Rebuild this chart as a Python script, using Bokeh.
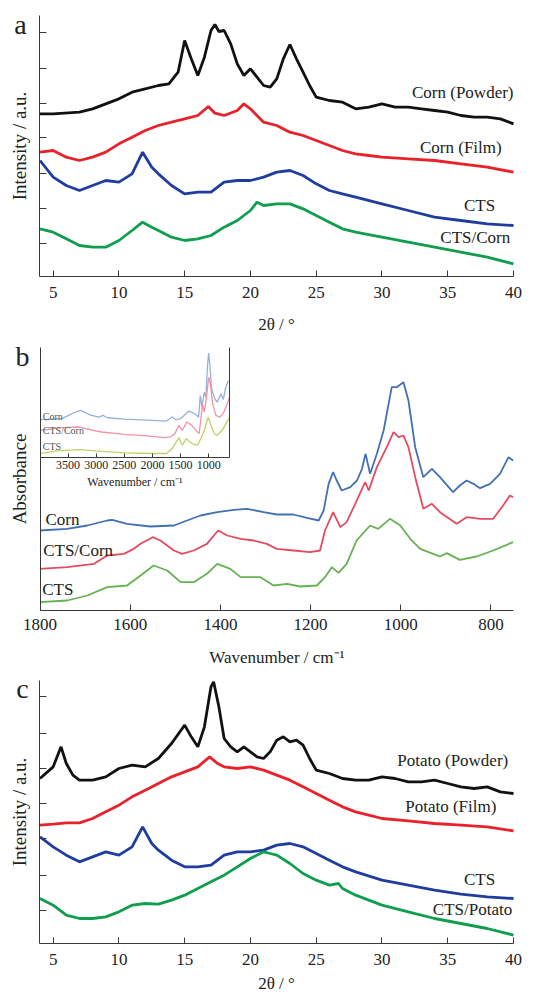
from bokeh.plotting import figure
from bokeh.layouts import column
from bokeh.models import Range1d, FixedTicker, LinearAxis, CustomJSTickFormatter
from bokeh.core.properties import value
from bokeh.embed import file_html
from bokeh.resources import INLINE

FONT = "Liberation Serif"

# ---------------- Panel a : XRD, corn ----------------
a_theta_powder = [4, 5, 7, 8, 9, 10, 11, 12, 13, 13.8, 14.5, 15, 15.5, 16, 16.5, 17, 17.3, 17.6, 18, 18.5,
                  19, 19.5, 20, 20.5, 21, 21.5, 22, 22.5, 23, 23.5, 24, 24.5, 25, 26, 27, 28, 29, 30, 31,
                  32, 33, 34, 35, 36, 37, 38, 39, 40]
a_int_powder = [488, 488, 493, 503, 518, 533, 553, 563, 573, 578, 613, 708, 653, 603, 658, 738, 756, 735, 738, 698,
                638, 603, 623, 598, 573, 568, 593, 653, 696, 653, 613, 573, 538, 528, 523, 503, 508, 518, 508,
                508, 503, 498, 493, 483, 478, 478, 473, 458]
a_theta_film = [4, 5, 6, 7, 8, 9, 10, 11, 12, 13, 14, 15, 16, 16.8, 17.3, 18, 19, 19.5, 20, 21, 22, 23, 24,
                25, 26, 27, 28, 29, 30, 32, 34, 36, 38, 40]
a_int_film = [373, 378, 358, 348, 358, 373, 398, 418, 438, 453, 463, 473, 483, 510, 490, 483, 498, 518, 503, 463,
              453, 433, 423, 408, 393, 378, 368, 363, 358, 353, 348, 338, 328, 313]
a_theta_cts = [4, 5, 6, 7, 8, 9, 10, 11, 11.8, 12.5, 13, 14, 15, 16, 17, 18, 19, 20, 21, 22, 23, 24, 25, 26,
               27, 28, 30, 32, 34, 36, 38, 40]
a_int_cts = [348, 298, 273, 258, 273, 288, 283, 308, 373, 328, 308, 273, 248, 253, 253, 283, 288, 288, 298, 313,
             318, 303, 278, 258, 248, 238, 218, 198, 178, 168, 158, 153]
a_theta_blend = [4, 5, 6, 7, 8, 9, 10, 11, 11.8, 12.5, 13, 14, 15, 16, 17, 18, 19, 20, 20.5, 21, 22, 23, 24,
                 25, 26, 27, 28, 30, 32, 34, 36, 38, 40]
a_int_blend = [143, 133, 113, 93, 88, 88, 108, 138, 163, 148, 138, 118, 108, 113, 123, 148, 168, 198, 223, 213,
               218, 218, 203, 183, 163, 143, 133, 118, 103, 88, 73, 58, 38]
a_names = ["Corn (Powder)", "Corn (Film)", "CTS", "CTS/Corn"]
a_yticks = [98, 203, 310, 416, 520, 625, 733]

# ---------------- Panel b : FTIR ----------------
b_wn_corn = [1800, 1740, 1695, 1651, 1640, 1607, 1555, 1503, 1474, 1444, 1407, 1370, 1341, 1304, 1275, 1238,
             1208, 1182, 1171, 1160, 1150, 1142, 1131, 1112, 1097, 1086, 1078, 1068, 1053, 1038, 1020, 1009,
             994, 983, 968, 950, 931, 913, 884, 869, 854, 839, 824, 802, 780, 761, 751]
b_abs_corn = [240, 245, 255, 270, 272, 260, 252, 255, 270, 285, 295, 302, 305, 295, 288, 288,
              278, 270, 300, 380, 415, 390, 360, 370, 390, 425, 470, 410, 470, 540, 670, 670,
              685, 630, 490, 400, 425, 400, 355, 375, 390, 380, 367, 380, 410, 460, 450]
b_wn_blend = [1800, 1740, 1680, 1651, 1614, 1592, 1577, 1550, 1533, 1503, 1485, 1459, 1430, 1405, 1385, 1355,
              1326, 1297, 1275, 1238, 1201, 1179, 1168, 1150, 1134, 1120, 1101, 1079, 1071, 1053, 1031, 1016,
              1005, 994, 983, 968, 950, 931, 913, 876, 854, 824, 795, 773, 758, 751]
b_abs_blend = [125, 130, 140, 165, 170, 185, 200, 220, 210, 180, 170, 180, 200, 240, 225, 215,
               210, 200, 185, 180, 175, 180, 240, 295, 250, 265, 320, 385, 360, 430, 490, 535,
               520, 525, 490, 400, 305, 320, 295, 260, 280, 275, 275, 315, 345, 340]
b_wn_cts = [1800, 1740, 1695, 1651, 1607, 1577, 1548, 1518, 1488, 1459, 1430, 1407, 1378, 1355, 1311, 1282,
            1252, 1223, 1186, 1168, 1153, 1138, 1120, 1098, 1068, 1050, 1024, 1001, 979, 957, 928, 913,
            898, 869, 832, 795, 751]
b_abs_cts = [25, 30, 45, 70, 75, 105, 135, 120, 85, 85, 110, 140, 125, 100, 100, 75,
             80, 72, 75, 100, 130, 113, 140, 210, 255, 245, 275, 255, 215, 185, 170, 162,
             172, 152, 162, 180, 205]
b_names = ["Corn", "CTS/Corn", "CTS"]
b_xticks = [1800, 1600, 1400, 1200, 1000, 800]

# inset (full range spectra)
i_wn_corn = [4000, 3900, 3600, 3400, 3280, 3100, 2950, 2880, 2800, 2500, 2000, 1750, 1650, 1580, 1500, 1420,
             1350, 1250, 1180, 1150, 1120, 1080, 1050, 1020, 1000, 980, 950, 900, 850, 780, 740, 700, 650]
i_abs_corn = [115, 114, 118, 135, 142, 128, 122, 127, 120, 116, 112, 110, 122, 114, 117, 130,
              140, 132, 122, 187, 152, 197, 182, 280, 315, 280, 210, 180, 167, 192, 175, 210, 232]
i_wn_blend = [4000, 3600, 3300, 3000, 2900, 2500, 2100, 1800, 1680, 1600, 1530, 1470, 1390, 1300, 1230, 1170,
              1130, 1110, 1080, 1040, 1000, 970, 930, 870, 800, 730, 670, 630]
i_abs_blend = [82, 90, 92, 80, 77, 70, 65, 60, 62, 72, 97, 82, 107, 97, 82, 72,
               130, 162, 137, 180, 242, 222, 162, 127, 122, 137, 162, 182]
i_wn_cts = [4000, 3700, 3300, 3000, 2500, 2000, 1750, 1650, 1530, 1470, 1400, 1300, 1200, 1140, 1080, 1010,
            960, 900, 850, 760, 660, 630]
i_abs_cts = [12, 20, 24, 20, 14, 12, 12, 27, 60, 37, 57, 42, 37, 57, 80, 122,
             97, 72, 67, 82, 112, 120]
i_names = ["Corn", "CTS/Corn", "CTS"]
i_xticks = [3500, 3000, 2500, 2000, 1500, 1000]

# ---------------- Panel c : XRD, potato ----------------
c_theta_powder = [4, 5, 5.6, 6, 6.5, 7, 8, 9, 10, 11, 12, 13, 14, 15, 15.5, 16, 16.5, 17, 17.2, 17.6, 18,
                  18.5, 19, 19.5, 20, 20.5, 21, 21.5, 22, 22.5, 23, 23.5, 24, 24.5, 25, 26, 27, 28, 29, 30,
                  31, 32, 33, 34, 35, 36, 37, 38, 39, 40]
c_int_powder = [495, 530, 590, 540, 505, 490, 490, 500, 525, 535, 530, 555, 600, 655, 620, 590, 650, 770, 785,
                710, 615, 590, 575, 590, 575, 560, 555, 575, 610, 620, 605, 610, 595, 555, 520, 510, 495,
                490, 490, 500, 495, 485, 485, 490, 480, 470, 465, 470, 455, 450]
c_theta_film = [4, 5, 6, 7, 8, 9, 10, 11, 12, 13, 14, 15, 16, 16.9, 17.5, 18, 19, 20, 21, 22, 23, 24, 25,
                26, 27, 28, 29, 30, 32, 34, 36, 38, 40]
c_int_film = [355, 358, 362, 362, 375, 395, 415, 440, 460, 480, 500, 515, 530, 560, 540, 530, 525, 530, 520,
              505, 490, 470, 450, 430, 410, 395, 385, 375, 368, 360, 355, 350, 338]
c_theta_cts = [4, 5, 6, 7, 8, 9, 10, 11, 11.8, 12.5, 13, 14, 15, 16, 17, 18, 19, 20, 21, 22, 23, 24, 25, 26,
               27, 28, 30, 32, 34, 36, 38, 40]
c_int_cts = [320, 290, 265, 245, 260, 275, 265, 290, 350, 300, 280, 250, 230, 230, 235, 265, 275, 275, 280,
             295, 300, 290, 270, 250, 230, 215, 190, 175, 160, 148, 140, 135]
c_theta_blend = [4, 5, 6, 7, 8, 9, 10, 11, 12, 13, 14, 15, 16, 17, 18, 19, 20, 21, 21.5, 22, 23, 24, 25,
                 26, 26.7, 27, 28, 30, 32, 34, 36, 38, 40]
c_int_blend = [135, 115, 85, 75, 75, 80, 95, 115, 120, 118, 130, 145, 165, 185, 205, 230, 255, 275, 270, 265,
               240, 210, 190, 175, 180, 165, 145, 115, 95, 75, 60, 45, 25]
c_names = ["Potato (Powder)", "Potato (Film)", "CTS", "CTS/Potato"]
c_yticks = [100, 205, 315, 420, 525, 630, 740]

xrd_xticks = [5, 10, 15, 20, 25, 30, 35, 40]

XRD_COLORS = ["#111111", "#e8212b", "#1f3d9e", "#0f9e4e"]
FTIR_COLORS = ["#4270b4", "#e34b60", "#66b152"]
INSET_COLORS = ["#98b0dc", "#f095a5", "#c3d06a"]
AXIS_COLOR = "#3a3a3a"
TEXT_COLOR = "#222222"
WIDTH = 547


def style_axis(ax, tick_size, label_size, tick_in):
    ax.axis_line_color = AXIS_COLOR
    ax.major_tick_line_color = AXIS_COLOR
    ax.minor_tick_line_color = None
    ax.major_tick_out = 0
    ax.major_tick_in = tick_in
    ax.major_label_text_font = FONT
    ax.axis_label_text_font = FONT
    ax.axis_label_text_font_style = "normal"
    ax.major_label_text_color = TEXT_COLOR
    ax.axis_label_text_color = TEXT_COLOR
    ax.major_label_text_font_size = tick_size
    ax.axis_label_text_font_size = label_size


def base_figure(height, x_range, y_range):
    p = figure(width=WIDTH, height=height, x_range=x_range, y_range=y_range,
               x_axis_type=None, y_axis_type=None,
               output_backend="svg", toolbar_location=None,
               min_border_left=0, min_border_right=0, min_border_top=0, min_border_bottom=0)
    p.outline_line_color = None
    p.grid.visible = False
    p.background_fill_color = "white"
    p.border_fill_color = "white"
    return p


def blank_formatter():
    return CustomJSTickFormatter(code="return ''")


def xrd_figure(height, y_range, y_top, yticks, xs, ys, names, lab_x, lab_y, letter, letter_xy,
               xlabel_standoff):
    p = base_figure(height, Range1d(0.997, 42.585), y_range)
    xa = LinearAxis(fixed_location=0, bounds=(4, 40), ticker=FixedTicker(ticks=xrd_xticks),
                    axis_label="2θ / °")
    style_axis(xa, "17px", "17px", 6)
    xa.major_label_standoff = 10
    xa.axis_label_standoff = xlabel_standoff
    p.add_layout(xa, "below")
    ya = LinearAxis(fixed_location=4, bounds=(0, y_top), ticker=FixedTicker(ticks=yticks),
                    formatter=blank_formatter(), axis_label="Intensity / a.u.")
    style_axis(ya, "10px", "19px", 7)
    ya.major_label_standoff = 0
    ya.axis_label_standoff = 10
    p.add_layout(ya, "left")
    for x, y, c in zip(xs, ys, XRD_COLORS):
        p.line(x, y, line_color=c, line_width=2.8)
    p.text(x=lab_x, y=lab_y, text=names, text_align="right", text_baseline="middle",
           text_font=value(FONT), text_font_size="17px", text_color=TEXT_COLOR)
    p.text(x=[letter_xy[0]], y=[letter_xy[1]], text=[letter], text_align="center",
           text_baseline="middle", text_font=value(FONT), text_font_size="28px", text_color=TEXT_COLOR)
    return p


pa = xrd_figure(335, Range1d(-177, 828), 783, a_yticks,
                [a_theta_powder, a_theta_film, a_theta_cts, a_theta_blend],
                [a_int_powder, a_int_film, a_int_cts, a_int_blend],
                a_names, [40, 39.1, 38.6, 39.75], [553, 388, 213, 118], "a", (2.52, 757), 14)

pc = xrd_figure(328, Range1d(-159, 825), 790, c_yticks,
                [c_theta_powder, c_theta_film, c_theta_cts, c_theta_blend],
                [c_int_powder, c_int_film, c_int_cts, c_int_blend],
                c_names, [39.6, 38.7, 38.6, 39.9], [550, 410, 192, 102], "c", (2.67, 765), 6)

# ---------------- build panel b ----------------
pb = base_figure(333, Range1d(1887.6, 674.6), Range1d(-174, 825))
bx = LinearAxis(fixed_location=0, bounds=(750, 1800), ticker=FixedTicker(ticks=b_xticks),
                axis_label="Wavenumber / cm⁻¹")
style_axis(bx, "17px", "17px", 6)
bx.major_label_standoff = 8
bx.axis_label_standoff = 15
pb.add_layout(bx, "below")
by = LinearAxis(fixed_location=1800, bounds=(0, 790), ticker=FixedTicker(ticks=[]),
                formatter=blank_formatter(), axis_label="Absorbance")
style_axis(by, "10px", "19px", 0)
by.major_label_standoff = 0
by.axis_label_standoff = 11
pb.add_layout(by, "left")

for x, y, c in zip([b_wn_corn, b_wn_blend, b_wn_cts], [b_abs_corn, b_abs_blend, b_abs_cts], FTIR_COLORS):
    pb.line(x, y, line_color=c, line_width=1.8)
pb.text(x=[1788, 1793, 1795], y=[273, 180, 62], text=b_names, text_align="left", text_baseline="middle",
        text_font=value(FONT), text_font_size="17px", text_color=TEXT_COLOR)
pb.text(x=[1838.8], y=[762], text=["b"], text_align="center", text_baseline="middle",
        text_font=value(FONT), text_font_size="28px", text_color=TEXT_COLOR)

# inset coordinates (extra ranges mapped into the upper-left part of the frame)
pb.extra_x_ranges = {"ix": Range1d(4702.5, -5025.4)}
pb.extra_y_ranges = {"iy": Range1d(-636.8, 368.2)}
for x, y, c in zip([i_wn_corn, i_wn_blend, i_wn_cts], [i_abs_corn, i_abs_blend, i_abs_cts], INSET_COLORS):
    pb.line(x, y, line_color=c, line_width=1.3, x_range_name="ix", y_range_name="iy")
pb.text(x=[3950, 3950, 3950], y=[125, 82, 32], text=i_names, text_align="left",
        text_baseline="middle", text_font=value(FONT), text_font_size="10px", text_color="#555555",
        x_range_name="ix", y_range_name="iy")

inset_x = LinearAxis(x_range_name="ix", y_range_name="iy", fixed_location=0, bounds=(630, 4000),
                     ticker=FixedTicker(ticks=i_xticks), axis_label="Wavenumber / cm⁻¹")
style_axis(inset_x, "12px", "12px", 4)
inset_x.major_label_standoff = 3
inset_x.axis_label_standoff = 3
pb.add_layout(inset_x, "below")
inset_r = LinearAxis(x_range_name="ix", y_range_name="iy", fixed_location=630, bounds=(0, 332),
                     ticker=FixedTicker(ticks=[]), formatter=blank_formatter())
style_axis(inset_r, "10px", "10px", 0)
pb.add_layout(inset_r, "right")

layout = column(pa, pb, pc, spacing=0)
open("out.html", "w").write(file_html(layout, INLINE))
